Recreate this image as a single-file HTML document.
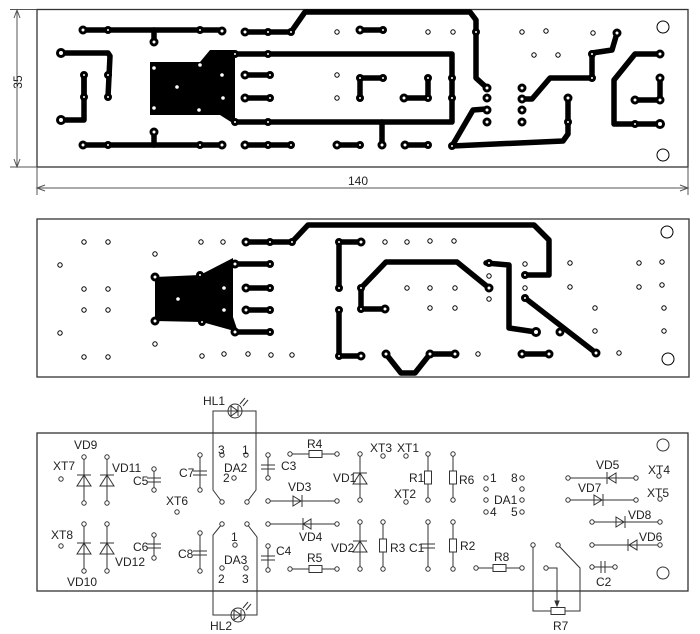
<!DOCTYPE html>
<html><head><meta charset="utf-8"><style>
html,body{margin:0;padding:0;background:#fff;}
svg{display:block;}
text{font-family:"Liberation Sans",sans-serif;font-size:12px;fill:#222;}
</style></head><body>
<svg width="700" height="634" viewBox="0 0 700 634" xmlns="http://www.w3.org/2000/svg">
<!-- ================= BOARD 1 ================= -->
<rect x="37" y="9.5" width="651" height="157.5" fill="#fff" stroke="#333" stroke-width="1.3"/>
<g stroke="#555" stroke-width="1" fill="none">
<line x1="10" y1="9.5" x2="37" y2="9.5"/><line x1="10" y1="167" x2="37" y2="167"/>
<line x1="17" y1="10" x2="17" y2="167"/>
<polyline points="14,18 17,10 20,18"/><polyline points="14,159 17,167 20,159"/>
<line x1="37" y1="167" x2="37" y2="195"/><line x1="688" y1="167" x2="688" y2="195"/>
<line x1="37" y1="188" x2="688" y2="188"/>
<polyline points="45,185 37,188 45,191"/><polyline points="680,185 688,188 680,191"/>
</g>
<text x="14" y="90" transform="rotate(-90 14 82)" text-anchor="middle">35</text>
<text x="348" y="185">140</text>
<g stroke="#000" stroke-width="5.5" fill="none" stroke-linejoin="round" stroke-linecap="round">
<polyline points="83,30 222,30"/><polyline points="154,30 154,42"/>
<polyline points="83,145 222,145"/><polyline points="154,145 154,132"/>
<polyline points="61,53 108,53 110,56 108,97"/><polyline points="84,75 84,97"/>
<polyline points="61,120 84,120 84,75"/>
<polyline points="245,32 291,32 305,12 470,12 476,20 476,78 487,88"/>
<polyline points="235,54 452,54 452,122 235,122"/>
<polyline points="382,122 382,145"/>
<polyline points="245,75 270,75"/><polyline points="245,98 270,98"/>
<polyline points="245,145 291,145"/><polyline points="337,145 360,145"/><polyline points="405,145 428,145"/>
<polyline points="360,30 383,30"/>
<polyline points="383,78 360,78 360,98"/><polyline points="404,98 428,98 428,78"/>
<polyline points="452,146 473,110 486,109"/>
<polyline points="452,146 563,141 568,134 568,98"/>
<polyline points="522,99 532,99 550,78 592,78 592,53 612,50 617,33"/>
<polyline points="660,54 635,54 614,80 614,124 660,124"/>
<polyline points="660,78 660,100 635,100"/>
</g>
<polygon points="150,62 200,62 210,50 235,50 235,118 231,122 220,115 150,115" fill="#000"/>
<g fill="#fff" stroke="#000" stroke-width="3">
<circle cx="83" cy="30" r="3"/><circle cx="108" cy="30" r="2.5"/><circle cx="200" cy="30" r="2.5"/><circle cx="222" cy="31" r="3"/><circle cx="154" cy="42" r="3"/>
<circle cx="83" cy="145" r="3"/><circle cx="108" cy="145" r="2.5"/><circle cx="200" cy="145" r="2.5"/><circle cx="222" cy="145" r="3"/><circle cx="154" cy="132" r="3"/>
<circle cx="61" cy="53" r="3.5"/><circle cx="61" cy="120" r="3.5"/><circle cx="84" cy="75" r="2.5"/><circle cx="84" cy="97" r="2.5"/><circle cx="108" cy="75" r="2.5"/><circle cx="108" cy="97" r="2.5"/>
<circle cx="245" cy="32" r="3"/><circle cx="268" cy="32" r="2.5"/><circle cx="291" cy="32" r="2.5"/>
<circle cx="245" cy="75" r="3"/><circle cx="270" cy="75" r="2.5"/><circle cx="245" cy="98" r="3"/><circle cx="270" cy="98" r="2.5"/>
<circle cx="245" cy="145" r="3"/><circle cx="268" cy="145" r="2.5"/><circle cx="291" cy="145" r="2.5"/>
<circle cx="235" cy="54" r="2.5"/><circle cx="268" cy="54" r="2.5"/><circle cx="235" cy="122" r="2.5"/><circle cx="268" cy="122" r="2.5"/>
<circle cx="337" cy="145" r="3"/><circle cx="360" cy="145" r="2.5"/><circle cx="382" cy="145" r="3"/><circle cx="405" cy="145" r="3"/><circle cx="428" cy="145" r="2.5"/>
<circle cx="360" cy="30" r="3"/><circle cx="383" cy="30" r="2.5"/>
<circle cx="360" cy="78" r="2.5"/><circle cx="383" cy="78" r="2.5"/><circle cx="360" cy="98" r="2.5"/><circle cx="404" cy="98" r="3"/><circle cx="428" cy="78" r="2.5"/><circle cx="428" cy="98" r="2.5"/>
<circle cx="452" cy="78" r="2.5"/><circle cx="452" cy="98" r="2.5"/><circle cx="452" cy="146" r="2.5"/><circle cx="476" cy="32" r="2.5"/>
<circle cx="487" cy="88" r="3"/><circle cx="487" cy="98" r="3"/><circle cx="487" cy="110" r="3"/><circle cx="487" cy="122" r="3"/>
<circle cx="522" cy="88" r="3"/><circle cx="522" cy="99" r="3"/><circle cx="522" cy="110" r="3"/><circle cx="522" cy="122" r="3"/>
<circle cx="568" cy="98" r="3"/><circle cx="568" cy="122" r="2.5"/>
<circle cx="592" cy="78" r="2.5"/><circle cx="592" cy="54" r="2.5"/><circle cx="617" cy="33" r="3"/>
<circle cx="660" cy="54" r="3"/><circle cx="660" cy="78" r="3"/><circle cx="660" cy="100" r="3"/><circle cx="635" cy="100" r="3"/><circle cx="635" cy="124" r="2.5"/><circle cx="660" cy="124" r="3.5"/>
</g>
<g fill="#fff">
<circle cx="154" cy="68" r="1.8"/><circle cx="200" cy="65" r="1.8"/><circle cx="222" cy="75" r="1.8"/><circle cx="177" cy="87" r="1.8"/><circle cx="223" cy="98" r="1.8"/><circle cx="154" cy="108" r="1.8"/><circle cx="199" cy="110" r="1.8"/>
</g>
<g fill="#fff" stroke="#000" stroke-width="1">
<circle cx="428" cy="32" r="2.2"/><circle cx="453" cy="32" r="2.2"/><circle cx="522" cy="32" r="2.2"/><circle cx="546" cy="31" r="2.2"/><circle cx="593" cy="33" r="2.2"/><circle cx="534" cy="55" r="2.2"/><circle cx="558" cy="55" r="2.2"/>
<circle cx="337" cy="32" r="2.2"/><circle cx="337" cy="75" r="2.2"/><circle cx="337" cy="98" r="2.2"/>
<circle cx="663" cy="27" r="6"/><circle cx="663" cy="155" r="6"/>
</g>

<!-- ================= BOARD 2 ================= -->
<rect x="37" y="219" width="652" height="158" fill="none" stroke="#333" stroke-width="1.3"/>
<g stroke="#000" stroke-width="5.5" fill="none" stroke-linejoin="round" stroke-linecap="round">
<polyline points="246,242 292,242 308,225 534,225 549,240 549,275 525,275"/>
<polyline points="235,264 270,264"/><polyline points="246,288 270,288"/><polyline points="246,310 270,310"/><polyline points="235,332 270,332"/>
<polyline points="361,242 339,242 339,288"/>
<polyline points="339,310 339,356 361,356"/>
<polyline points="489,288 457,262 386,262 361,288 361,309 385,309"/>
<polyline points="486,263 509,265 509,328 536,332"/>
<polyline points="525,298 596,353"/>
<polyline points="522,354 549,354"/>
<polyline points="386,354 401,373 415,373 430,354 455,354"/>
</g>
<polygon points="155,277 200,275 233,258 233,317 238,332 202,322 155,321" fill="#000"/>
<g fill="#fff" stroke="#000" stroke-width="3">
<circle cx="246" cy="242" r="3"/><circle cx="270" cy="242" r="2.5"/><circle cx="292" cy="242" r="2.5"/>
<circle cx="235" cy="264" r="3"/><circle cx="270" cy="264" r="2.5"/><circle cx="246" cy="288" r="3"/><circle cx="270" cy="288" r="2.5"/>
<circle cx="246" cy="310" r="3"/><circle cx="270" cy="310" r="2.5"/><circle cx="235" cy="332" r="3"/><circle cx="270" cy="332" r="2.5"/>
<circle cx="155" cy="277" r="3"/><circle cx="155" cy="321" r="3"/><circle cx="200" cy="275" r="2.5"/><circle cx="202" cy="322" r="2.5"/>
<circle cx="339" cy="242" r="2.5"/><circle cx="361" cy="242" r="3"/><circle cx="339" cy="288" r="2.5"/><circle cx="361" cy="288" r="2.5"/>
<circle cx="339" cy="310" r="2.5"/><circle cx="361" cy="309" r="2.5"/><circle cx="385" cy="309" r="3"/><circle cx="339" cy="356" r="2.5"/><circle cx="361" cy="356" r="3"/>
<circle cx="489" cy="288" r="3"/><circle cx="489" cy="263" r="2.5"/><circle cx="536" cy="332" r="3.5"/><circle cx="525" cy="275" r="2.5"/>
<circle cx="525" cy="298" r="2.5"/><circle cx="560" cy="332" r="3"/><circle cx="596" cy="353" r="3"/>
<circle cx="522" cy="354" r="3"/><circle cx="549" cy="354" r="3"/>
<circle cx="386" cy="354" r="3"/><circle cx="430" cy="354" r="3"/><circle cx="455" cy="354" r="3"/>
</g>
<g fill="#fff"><circle cx="178" cy="299" r="1.8"/><circle cx="224" cy="288" r="1.8"/><circle cx="224" cy="310" r="1.8"/></g>
<g fill="#fff" stroke="#000" stroke-width="1">
<circle cx="84" cy="242" r="2.2"/><circle cx="108" cy="242" r="2.2"/><circle cx="60" cy="265" r="2.2"/><circle cx="155" cy="254" r="2.2"/><circle cx="201" cy="242" r="2.2"/><circle cx="223" cy="242" r="2.2"/>
<circle cx="84" cy="289" r="2.2"/><circle cx="108" cy="289" r="2.2"/><circle cx="84" cy="310" r="2.2"/><circle cx="108" cy="310" r="2.2"/><circle cx="60" cy="333" r="2.2"/><circle cx="155" cy="344" r="2.2"/>
<circle cx="84" cy="357" r="2.2"/><circle cx="108" cy="357" r="2.2"/><circle cx="202" cy="356" r="2.2"/><circle cx="224" cy="354" r="2.2"/><circle cx="248" cy="354" r="2.2"/><circle cx="271" cy="355" r="2.2"/><circle cx="292" cy="355" r="2.2"/>
<circle cx="385" cy="242" r="2.2"/><circle cx="407" cy="242" r="2.2"/><circle cx="430" cy="241" r="2.2"/><circle cx="454" cy="241" r="2.2"/>
<circle cx="407" cy="288" r="2.2"/><circle cx="430" cy="288" r="2.2"/><circle cx="455" cy="288" r="2.2"/><circle cx="430" cy="308" r="2.2"/><circle cx="455" cy="308" r="2.2"/>
<circle cx="489" cy="276" r="2.2"/><circle cx="489" cy="299" r="2.2"/><circle cx="525" cy="264" r="2.2"/><circle cx="525" cy="288" r="2.2"/>
<circle cx="570" cy="263" r="2.2"/><circle cx="570" cy="287" r="2.2"/><circle cx="595" cy="308" r="2.2"/><circle cx="595" cy="331" r="2.2"/><circle cx="619" cy="353" r="2.2"/><circle cx="478" cy="354" r="2.2"/>
<circle cx="639" cy="263" r="2.2"/><circle cx="662" cy="262" r="2.2"/><circle cx="639" cy="287" r="2.2"/><circle cx="662" cy="285" r="2.2"/><circle cx="664" cy="308" r="2.2"/><circle cx="664" cy="331" r="2.2"/>
<circle cx="667" cy="232" r="6"/><circle cx="668" cy="359" r="6"/>
</g>

<!-- ================= BOARD 3 ================= -->
<rect x="37" y="433" width="651" height="158" fill="none" stroke="#333" stroke-width="1.3"/>
<g stroke="#333" stroke-width="1" fill="none">
<!-- left diodes -->
<line x1="84" y1="457" x2="84" y2="503"/><line x1="107" y1="457" x2="107" y2="503"/>
<line x1="84" y1="524" x2="84" y2="571"/><line x1="107" y1="524" x2="107" y2="571"/>
<line x1="77" y1="475" x2="91" y2="475"/><polygon points="84,475 77,486 91,486"/>
<line x1="100" y1="475" x2="114" y2="475"/><polygon points="107,475 100,486 114,486"/>
<line x1="77" y1="543" x2="91" y2="543"/><polygon points="84,543 77,554 91,554"/>
<line x1="100" y1="543" x2="114" y2="543"/><polygon points="107,543 100,554 114,554"/>
<!-- caps -->
<line x1="154" y1="469" x2="154" y2="490"/><line x1="147" y1="478" x2="161" y2="478"/><line x1="147" y1="482" x2="161" y2="482"/>
<line x1="154" y1="535" x2="154" y2="558"/><line x1="147" y1="544" x2="161" y2="544"/><line x1="147" y1="548" x2="161" y2="548"/>
<line x1="200" y1="455" x2="200" y2="490"/><line x1="193" y1="471" x2="207" y2="471"/><line x1="193" y1="475" x2="207" y2="475"/>
<line x1="200" y1="533" x2="200" y2="571"/><line x1="193" y1="551" x2="207" y2="551"/><line x1="193" y1="555" x2="207" y2="555"/>
<line x1="268" y1="455" x2="268" y2="478"/><line x1="261" y1="465" x2="275" y2="465"/><line x1="261" y1="469" x2="275" y2="469"/>
<line x1="268" y1="546" x2="268" y2="570"/><line x1="261" y1="556" x2="275" y2="556"/><line x1="261" y1="560" x2="275" y2="560"/>
<!-- DA2 / HL1 -->
<polyline points="222,502 213,490 213,411 228,411"/><polyline points="247,502 256,490 256,411 242,411"/>
<circle cx="235" cy="411" r="7"/><polygon points="231,406 231,416 238,411"/><line x1="238" y1="406" x2="238" y2="416"/><line x1="228" y1="411" x2="242" y2="411"/>
<line x1="240" y1="404" x2="245" y2="398"/><line x1="243" y1="406" x2="248" y2="400"/>
<!-- DA3 / HL2 -->
<polyline points="222,524 213,535 213,615 231,615"/><polyline points="247,524 257,537 257,615 245,615"/>
<circle cx="238" cy="615" r="7"/><polygon points="234,610 234,620 241,615"/><line x1="241" y1="610" x2="241" y2="620"/><line x1="231" y1="615" x2="245" y2="615"/>
<line x1="243" y1="608" x2="248" y2="602"/><line x1="246" y1="610" x2="251" y2="604"/>
<!-- R4, R5 -->
<line x1="290" y1="454" x2="337" y2="454"/><rect x="309" y="450.5" width="13" height="7" fill="#fff"/>
<line x1="290" y1="569" x2="337" y2="569"/><rect x="309" y="565.5" width="13" height="7" fill="#fff"/>
<!-- VD3 VD4 -->
<line x1="268" y1="501" x2="337" y2="501"/><polygon points="293,496 293,506 301,501"/><line x1="302" y1="495" x2="302" y2="507"/>
<line x1="268" y1="524" x2="337" y2="524"/><polygon points="311,519 311,529 303,524"/><line x1="303" y1="518" x2="303" y2="530"/>
<!-- VD1 VD2 -->
<line x1="360" y1="454" x2="360" y2="500"/><line x1="353" y1="473" x2="367" y2="473"/><polygon points="360,473 353,484 367,484"/>
<line x1="360" y1="522" x2="360" y2="569"/><line x1="353" y1="541" x2="367" y2="541"/><polygon points="360,541 353,552 367,552"/>
<!-- R1 R6 R3 R2 C1 -->
<line x1="428" y1="454" x2="428" y2="500"/><rect x="424.5" y="471" width="7" height="13" fill="#fff"/>
<line x1="453" y1="454" x2="453" y2="500"/><rect x="449.5" y="471" width="7" height="13" fill="#fff"/>
<line x1="383" y1="522" x2="383" y2="569"/><rect x="379.5" y="539" width="7" height="13" fill="#fff"/>
<line x1="453" y1="522" x2="453" y2="569"/><rect x="449.5" y="539" width="7" height="13" fill="#fff"/>
<line x1="428" y1="522" x2="428" y2="569"/><line x1="421" y1="544" x2="435" y2="544"/><line x1="421" y1="548" x2="435" y2="548"/>
<!-- R8 -->
<line x1="476" y1="568" x2="522" y2="568"/><rect x="493" y="564.5" width="13" height="7" fill="#fff"/>
<!-- R7 -->
<polyline points="533,545 533,611 551,611"/><polyline points="558,545 580,568 580,611 565,611"/>
<rect x="551" y="607.5" width="14" height="7" fill="#fff"/>
<polyline points="546,568 557,568 557,605"/><polygon points="555,601 559,601 557,606" fill="#333"/>
<!-- VD5 VD7 VD8 VD6 -->
<line x1="568" y1="478" x2="636" y2="478"/><polygon points="616,473 616,483 608,478"/><line x1="607" y1="472" x2="607" y2="484"/>
<line x1="568" y1="500" x2="636" y2="500"/><polygon points="594,495 594,505 602,500"/><line x1="603" y1="494" x2="603" y2="506"/>
<line x1="592" y1="522" x2="660" y2="522"/><polygon points="616,517 616,527 624,522"/><line x1="625" y1="516" x2="625" y2="528"/>
<line x1="592" y1="545" x2="660" y2="545"/><polygon points="637,540 637,550 629,545"/><line x1="628" y1="539" x2="628" y2="551"/>
<!-- C2 -->
<line x1="592" y1="567" x2="615" y2="567"/><line x1="601" y1="561" x2="601" y2="573"/><line x1="605" y1="561" x2="605" y2="573"/>
</g>
<g fill="#fff" stroke="#333" stroke-width="1">
<circle cx="61" cy="479" r="2.2"/><circle cx="61" cy="546" r="2.2"/>
<circle cx="84" cy="457" r="2.2"/><circle cx="84" cy="503" r="2.2"/><circle cx="107" cy="457" r="2.2"/><circle cx="107" cy="503" r="2.2"/>
<circle cx="84" cy="524" r="2.2"/><circle cx="84" cy="571" r="2.2"/><circle cx="107" cy="524" r="2.2"/><circle cx="107" cy="571" r="2.2"/>
<circle cx="154" cy="469" r="2.2"/><circle cx="154" cy="490" r="2.2"/><circle cx="154" cy="535" r="2.2"/><circle cx="154" cy="558" r="2.2"/>
<circle cx="177" cy="512" r="2.2"/>
<circle cx="200" cy="455" r="2.2"/><circle cx="200" cy="490" r="2.2"/><circle cx="200" cy="533" r="2.2"/><circle cx="200" cy="571" r="2.2"/>
<circle cx="222" cy="455" r="2.2"/><circle cx="246" cy="455" r="2.2"/><circle cx="234" cy="478" r="2.2"/><circle cx="222" cy="502" r="2.2"/><circle cx="247" cy="502" r="2.2"/>
<circle cx="222" cy="524" r="2.2"/><circle cx="247" cy="524" r="2.2"/><circle cx="235" cy="545" r="2.2"/><circle cx="222" cy="568" r="2.2"/><circle cx="246" cy="568" r="2.2"/>
<circle cx="268" cy="455" r="2.2"/><circle cx="268" cy="478" r="2.2"/><circle cx="268" cy="546" r="2.2"/><circle cx="268" cy="570" r="2.2"/>
<circle cx="290" cy="454" r="2.2"/><circle cx="337" cy="454" r="2.2"/><circle cx="290" cy="569" r="2.2"/><circle cx="337" cy="569" r="2.2"/>
<circle cx="268" cy="501" r="2.2"/><circle cx="337" cy="501" r="2.2"/><circle cx="268" cy="524" r="2.2"/><circle cx="337" cy="524" r="2.2"/>
<circle cx="360" cy="454" r="2.2"/><circle cx="360" cy="500" r="2.2"/><circle cx="360" cy="522" r="2.2"/><circle cx="360" cy="569" r="2.2"/>
<circle cx="383" cy="456" r="2.2"/><circle cx="406" cy="456" r="2.2"/><circle cx="406" cy="502" r="2.2"/>
<circle cx="428" cy="454" r="2.2"/><circle cx="428" cy="500" r="2.2"/><circle cx="453" cy="454" r="2.2"/><circle cx="453" cy="500" r="2.2"/>
<circle cx="383" cy="522" r="2.2"/><circle cx="383" cy="569" r="2.2"/><circle cx="428" cy="522" r="2.2"/><circle cx="428" cy="569" r="2.2"/><circle cx="453" cy="522" r="2.2"/><circle cx="453" cy="569" r="2.2"/>
<circle cx="486" cy="478" r="2.2"/><circle cx="522" cy="478" r="2.2"/><circle cx="486" cy="489" r="2.2"/><circle cx="522" cy="489" r="2.2"/><circle cx="486" cy="500" r="2.2"/><circle cx="522" cy="500" r="2.2"/><circle cx="486" cy="512" r="2.2"/><circle cx="522" cy="512" r="2.2"/>
<circle cx="476" cy="568" r="2.2"/><circle cx="522" cy="568" r="2.2"/><circle cx="533" cy="545" r="2.2"/><circle cx="558" cy="545" r="2.2"/><circle cx="546" cy="568" r="2.2"/>
<circle cx="568" cy="478" r="2.2"/><circle cx="636" cy="478" r="2.2"/><circle cx="568" cy="500" r="2.2"/><circle cx="636" cy="500" r="2.2"/>
<circle cx="592" cy="522" r="2.2"/><circle cx="660" cy="522" r="2.2"/><circle cx="592" cy="545" r="2.2"/><circle cx="660" cy="545" r="2.2"/>
<circle cx="592" cy="567" r="2.2"/><circle cx="615" cy="567" r="2.2"/>
<circle cx="659" cy="476" r="2.2"/><circle cx="660" cy="499" r="2.2"/>
<circle cx="663" cy="445" r="6"/><circle cx="663" cy="573" r="6"/>
</g>
<g>
<text x="74" y="449">VD9</text><text x="53" y="470">XT7</text><text x="112" y="472">VD11</text><text x="133" y="485">C5</text>
<text x="51" y="539">XT8</text><text x="115" y="566">VD12</text><text x="133" y="551">C6</text><text x="67" y="586">VD10</text>
<text x="166" y="505">XT6</text><text x="179" y="477">C7</text><text x="178" y="558">C8</text>
<text x="203" y="405">HL1</text><text x="210" y="630">HL2</text>
<text x="218" y="454">3</text><text x="242" y="454">1</text><text x="224" y="472">DA2</text><text x="223" y="482">2</text>
<text x="231" y="541">1</text><text x="224" y="564">DA3</text><text x="218" y="583">2</text><text x="242" y="583">3</text>
<text x="281" y="470">C3</text><text x="276" y="555">C4</text>
<text x="307" y="448">R4</text><text x="307" y="562">R5</text><text x="288" y="491">VD3</text><text x="299" y="541">VD4</text>
<text x="333" y="482">VD1</text><text x="331" y="552">VD2</text>
<text x="370" y="452">XT3</text><text x="397" y="452">XT1</text><text x="394" y="498">XT2</text>
<text x="409" y="482">R1</text><text x="459" y="484">R6</text><text x="390" y="552">R3</text><text x="409" y="552">C1</text><text x="460" y="550">R2</text>
<text x="490" y="482">1</text><text x="511" y="482">8</text><text x="494" y="504">DA1</text><text x="490" y="516">4</text><text x="511" y="516">5</text>
<text x="494" y="561">R8</text><text x="553" y="630">R7</text>
<text x="596" y="469">VD5</text><text x="648" y="474">XT4</text><text x="578" y="492">VD7</text><text x="647" y="497">XT5</text>
<text x="628" y="519">VD8</text><text x="639" y="541">VD6</text><text x="596" y="586">C2</text>
</g>
</svg>
</body></html>
